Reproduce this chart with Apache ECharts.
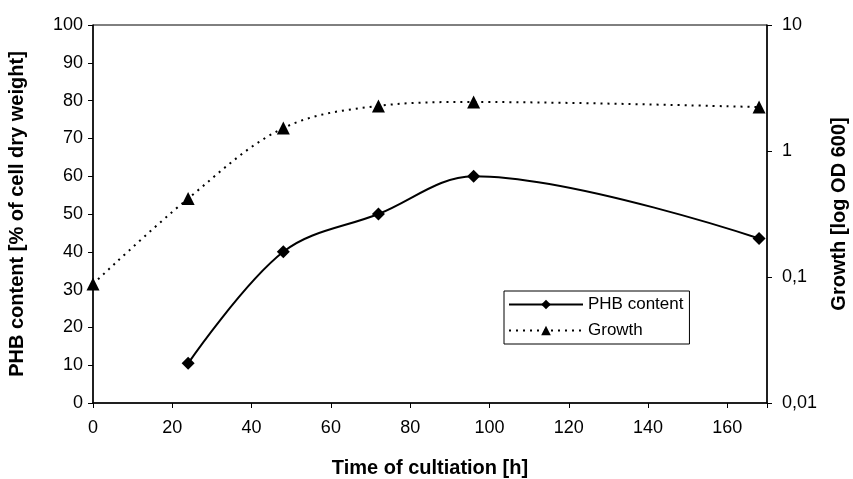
<!DOCTYPE html>
<html>
<head>
<meta charset="utf-8">
<script src="https://cdn.jsdelivr.net/npm/echarts@6/dist/echarts.min.js"></script>
<style>
  html, body { margin: 0; padding: 0; background: #fff; }
  #chart { width: 853px; height: 479px; }
</style>
</head>
<body>
<div id="chart"></div>
<script>
// time of cultivation [h]
const phbTimes = [24, 48, 72, 96, 168];
const phbContent = [10.5, 40, 50, 60, 43.5];

const growthTimes = [0, 24, 48, 72, 96, 168];
const growthOD = [0.088, 0.42, 1.52, 2.28, 2.45, 2.23];

const pairs = (xs, ys) => xs.map((x, i) => [x, ys[i]]);

const font = "Liberation Sans, Arial, sans-serif";

const myChart = echarts.init(document.getElementById("chart"));

myChart.setOption({
    animation: false,
    backgroundColor: "#fff",
    textStyle: { fontFamily: font, color: "#000" },
    grid: {
        left: 93, right: 86, top: 25, bottom: 76,
        containLabel: false,
        outerBoundsMode: "none",
        show: true, borderColor: "#000", borderWidth: 1
    },
    legend: {
        left: 504, top: 291,
        orient: "vertical",
        borderColor: "#000", borderWidth: 1,
        padding: [5, 6, 5, 4],
        itemGap: 9,
        itemWidth: 74, itemHeight: 12,
        textStyle: { fontFamily: font, fontSize: 17, color: "#000" },
        data: ["PHB content", "Growth"]
    },
    xAxis: {
        type: "value",
        min: 0, max: 170, interval: 20,
        name: "Time of cultiation [h]",
        nameLocation: "middle",
        nameGap: 55,
        nameTextStyle: { fontFamily: font, fontSize: 20, fontWeight: "bold", color: "#000" },
        axisLine: { lineStyle: { color: "#000", width: 1.5 } },
        axisTick: { show: true, length: 5, lineStyle: { color: "#000" } },
        axisLabel: {
            fontFamily: font, fontSize: 18, color: "#000", margin: 16,
            formatter: v => (v > 160 ? "" : String(v))
        },
        splitLine: { show: false }
    },
    yAxis: [
        {
            type: "value",
            min: 0, max: 100, interval: 10,
            name: "PHB content [% of cell dry weight]",
            nameLocation: "middle",
            nameGap: 66,
            nameTextStyle: { fontFamily: font, fontSize: 20, fontWeight: "bold", color: "#000" },
            axisLine: { show: true, lineStyle: { color: "#000", width: 1.5 } },
            axisTick: { show: true, length: 5, lineStyle: { color: "#000" } },
            axisLabel: { fontFamily: font, fontSize: 18, color: "#000", margin: 10 },
            splitLine: { show: false }
        },
        {
            type: "log",
            logBase: 10,
            min: 0.01, max: 10,
            position: "right",
            name: "Growth [log OD 600]",
            nameLocation: "middle",
            nameGap: 62,
            nameRotate: 90,
            nameTextStyle: { fontFamily: font, fontSize: 20, fontWeight: "bold", color: "#000" },
            axisLine: { show: true, lineStyle: { color: "#000", width: 1.5 } },
            axisTick: { show: true, length: 5, lineStyle: { color: "#000" } },
            axisLabel: {
                fontFamily: font, fontSize: 18, color: "#000", margin: 15,
                formatter: v => String(+v.toPrecision(3)).replace(".", ",")
            },
            splitLine: { show: false }
        }
    ],
    series: [
        {
            name: "PHB content",
            type: "line",
            yAxisIndex: 0,
            smooth: 0.35,
            data: pairs(phbTimes, phbContent),
            symbol: "diamond",
            symbolSize: 13,
            itemStyle: { color: "#000" },
            lineStyle: { color: "#000", width: 2 }
        },
        {
            name: "Growth",
            type: "line",
            yAxisIndex: 1,
            smooth: 0.35,
            data: pairs(growthTimes, growthOD),
            symbol: "triangle",
            symbolSize: 13,
            itemStyle: { color: "#000" },
            lineStyle: { color: "#000", width: 2, type: [2, 5] }
        }
    ]
});
</script>
</body>
</html>
